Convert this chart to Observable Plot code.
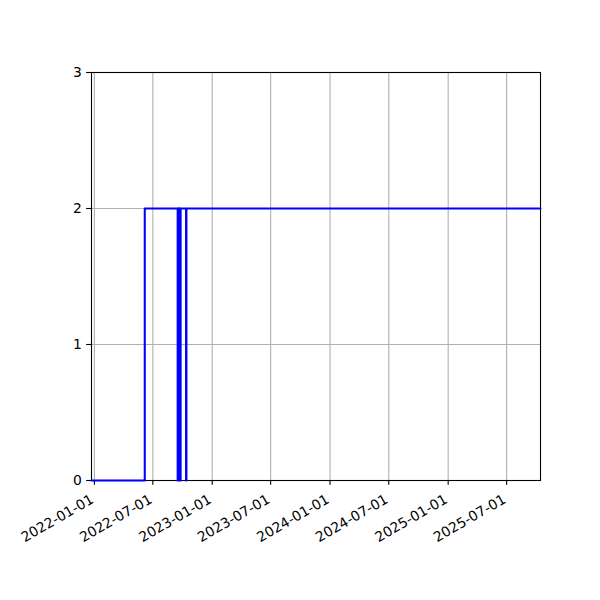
<!DOCTYPE html>
<html><head><meta charset="utf-8">
<script src="https://cdn.jsdelivr.net/npm/d3@7"></script>
<script src="https://cdn.jsdelivr.net/npm/@observablehq/plot@0.6"></script>
<style>body{margin:0;background:#fff}</style>
</head><body><div id="chart"></div>
<script>
const xDomain = ["2021-12-23", "2025-10-14"];
const xTickLabels = ["2022-01-01","2022-07-01","2023-01-01","2023-07-01","2024-01-01","2024-07-01","2025-01-01","2025-07-01"];
const yTicks = [0, 1, 2, 3];
const dates = ["2021-12-23","2022-06-06","2022-09-16","2022-09-17","2022-09-18","2022-09-19","2022-09-20","2022-09-21","2022-09-22","2022-09-23","2022-09-24","2022-09-25","2022-10-12","2022-10-13","2025-10-14"];
const values = [0, 2, 0, 2, 0, 2, 0, 2, 0, 2, 0, 2, 0, 2, 2];

const data = dates.map((d, i) => ({date: new Date(d), value: values[i]}));
const xTicks = xTickLabels.map(d => new Date(d));
const gridStyle = {stroke: "#b0b0b0", strokeOpacity: 1, strokeWidth: 1.1};

const chart = Plot.plot({
  width: 600, height: 600,
  marginLeft: 91, marginRight: 60, marginTop: 72, marginBottom: 120,
  style: {fontFamily: "DejaVu Sans", fontSize: "13.9px", color: "black", background: "white"},
  x: {type: "utc", domain: xDomain.map(d => new Date(d))},
  y: {domain: [0, 3]},
  marks: [
    Plot.gridX(xTicks, gridStyle),
    Plot.gridY(yTicks, gridStyle),
    Plot.frame({stroke: "black", strokeWidth: 1.1}),
    Plot.axisX({ticks: xTicks, tickSize: 4.86, strokeWidth: 1.1, label: null, tickFormat: () => ""}),
    Plot.axisX({ticks: xTicks, tickSize: 0, tickRotate: -30, tickPadding: 9.7, dx: -2, dy: 8,
      tickFormat: d3.utcFormat("%Y-%m-%d"), fontSize: 13.9, label: null, fill: "black"}),
    Plot.axisY({ticks: yTicks, tickSize: 4.86, tickPadding: 4.86, tickFormat: d => String(d),
      fontSize: 13.9, label: null, strokeWidth: 1.1, fill: "black"}),
    Plot.line(data, {x: "date", y: "value", curve: "step-after", stroke: "#0000ff", strokeWidth: 2.08})
  ]
});
document.getElementById("chart").appendChild(chart);
</script>
</body></html>
